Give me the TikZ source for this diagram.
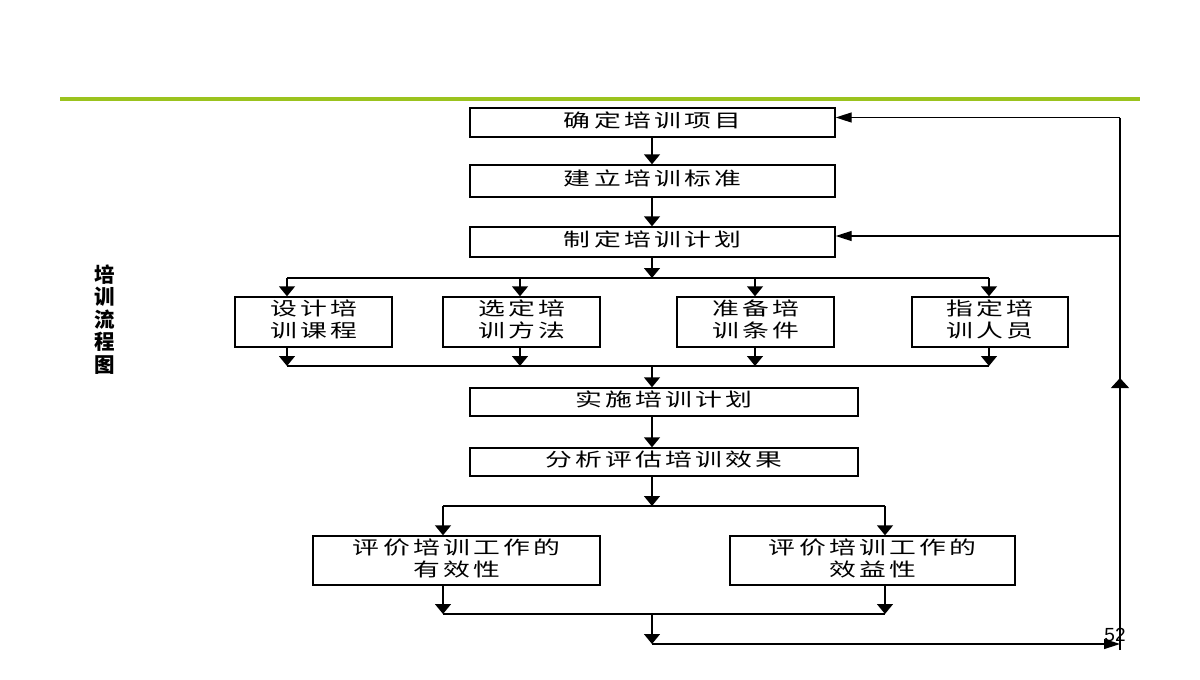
\documentclass[tikz,border=0pt]{standalone}
\usepackage{fontspec}
\usepackage{graphicx}
\usetikzlibrary{arrows.meta}
\setmainfont{Liberation Sans}
\newfontfamily\cjk[LetterSpace=12]{Noto Sans CJK SC}
\newfontfamily\cjkside{Noto Sans CJK SC}
\definecolor{barGreen}{RGB}{155,195,30}
\newcommand\bt[1]{\scalebox{1.45}[1]{\cjk\fontsize{18.5}{21}\selectfont\begin{tabular}{@{}c@{}}#1\end{tabular}}}
\tikzset{
  box/.style={draw, line width=1.4pt, inner sep=0pt, fill=white},
  ln/.style={line width=1.4pt},
  darr/.style={ln, -{Triangle[length=10pt,width=16pt]}},
  harr/.style={ln, -{Triangle[length=16pt,width=10pt]}},
  uarr/.style={ln, -{Triangle[length=10pt,width=18pt]}},
}
\begin{document}
\begin{tikzpicture}[x=1pt,y=-1pt]
\useasboundingbox[fill=white] (0,0) rectangle (1200,680);
% green bar
\draw[barGreen, line width=4pt] (60,99) -- (1140,99);
% side title
\node[font=\cjkside\bfseries\fontsize{20.5}{22.5}\selectfont, align=center, inner sep=0pt] (title) at (105,319.5) {培\\训\\流\\程\\图};
% main boxes
\node[box, minimum width=365pt, minimum height=29pt] (b1) at (652.5,122.5) {\bt{确定培训项目}};
\node[box, minimum width=365pt, minimum height=32pt] (b2) at (652.5,181) {\bt{建立培训标准}};
\node[box, minimum width=365pt, minimum height=30pt] (b3) at (652.5,242) {\bt{制定培训计划}};
\node[box, minimum width=157pt, minimum height=50pt] (s1) at (313.5,322) {\bt{设计培\\训课程}};
\node[box, minimum width=157pt, minimum height=50pt] (s2) at (521.5,322) {\bt{选定培\\训方法}};
\node[box, minimum width=157pt, minimum height=50pt] (s3) at (755.5,322) {\bt{准备培\\训条件}};
\node[box, minimum width=156pt, minimum height=50pt] (s4) at (990,322) {\bt{指定培\\训人员}};
\node[box, minimum width=388pt, minimum height=28pt] (b4) at (664,402) {\bt{实施培训计划}};
\node[box, minimum width=388pt, minimum height=28pt] (b5) at (664,462) {\bt{分析评估培训效果}};
\node[box, minimum width=287pt, minimum height=49pt] (e1) at (456.5,560.5) {\bt{评价培训工作的\\有效性}};
\node[box, minimum width=285pt, minimum height=49pt] (e2) at (872.5,560.5) {\bt{评价培训工作的\\效益性}};
% junction coordinates
\coordinate (c) at (652,0);
\coordinate (j1) at (652,278);
\coordinate (a1) at (287,278);
\coordinate (a2) at (520,278);
\coordinate (a3) at (755,278);
\coordinate (a4) at (989,278);
\coordinate (m1) at (287,366);
\coordinate (m2) at (520,366);
\coordinate (m3) at (755,366);
\coordinate (m4) at (989,366);
\coordinate (mC) at (652,366);
\coordinate (k) at (652,506);
\coordinate (kL) at (443,506);
\coordinate (kR) at (885,506);
\coordinate (nL) at (443,614);
\coordinate (nR) at (885,614);
\coordinate (nC) at (652,614);
\coordinate (pC) at (652,644);
\coordinate (pR) at (1120,644);
\coordinate (pE) at (1120,650);
\coordinate (qT) at (1120,117.5);
\coordinate (q3) at (1120,236);
\coordinate (upA) at (1120,392);
\coordinate (upB) at (1120,378);
% top column
\draw[darr] (b1.south -| c) -- (b2.north -| c);
\draw[darr] (b2.south -| c) -- (b3.north -| c);
\draw[darr] (b3.south -| c) -- (j1);
% branch to four boxes
\draw[ln] (a1) -- (a4);
\draw[darr] (a1) -- (a1 |- s1.north);
\draw[darr] (a2) -- (a2 |- s2.north);
\draw[darr] (a3) -- (a3 |- s3.north);
\draw[darr] (a4) -- (a4 |- s4.north);
% merge
\draw[darr] (s1.south -| m1) -- (m1);
\draw[darr] (s2.south -| m2) -- (m2);
\draw[darr] (s3.south -| m3) -- (m3);
\draw[darr] (s4.south -| m4) -- (m4);
\draw[ln] (m1) -- (m4);
\draw[darr] (mC) -- (mC |- b4.north);
\draw[darr] (b4.south -| c) -- (b5.north -| c);
\draw[darr] (b5.south -| c) -- (k);
% branch to two boxes
\draw[ln] (kL) -- (kR);
\draw[darr] (kL) -- (kL |- e1.north);
\draw[darr] (kR) -- (kR |- e2.north);
\draw[darr] (e1.south -| nL) -- (nL);
\draw[darr] (e2.south -| nR) -- (nR);
\draw[ln] (nL) -- (nR);
\draw[darr] (nC) -- (pC);
% feedback loop
\draw[harr] (pC) -- (pR);
\draw[ln] (pE) -- (qT);
\draw[uarr] (upA) -- (upB);
\draw[harr] (qT) -- (b1.east |- qT);
\draw[harr] (q3) -- (b3.east |- q3);
% page number
\node[font=\fontsize{19}{22}\selectfont, inner sep=0pt] (pg) at (1115,635) {52};
\end{tikzpicture}
\end{document}
